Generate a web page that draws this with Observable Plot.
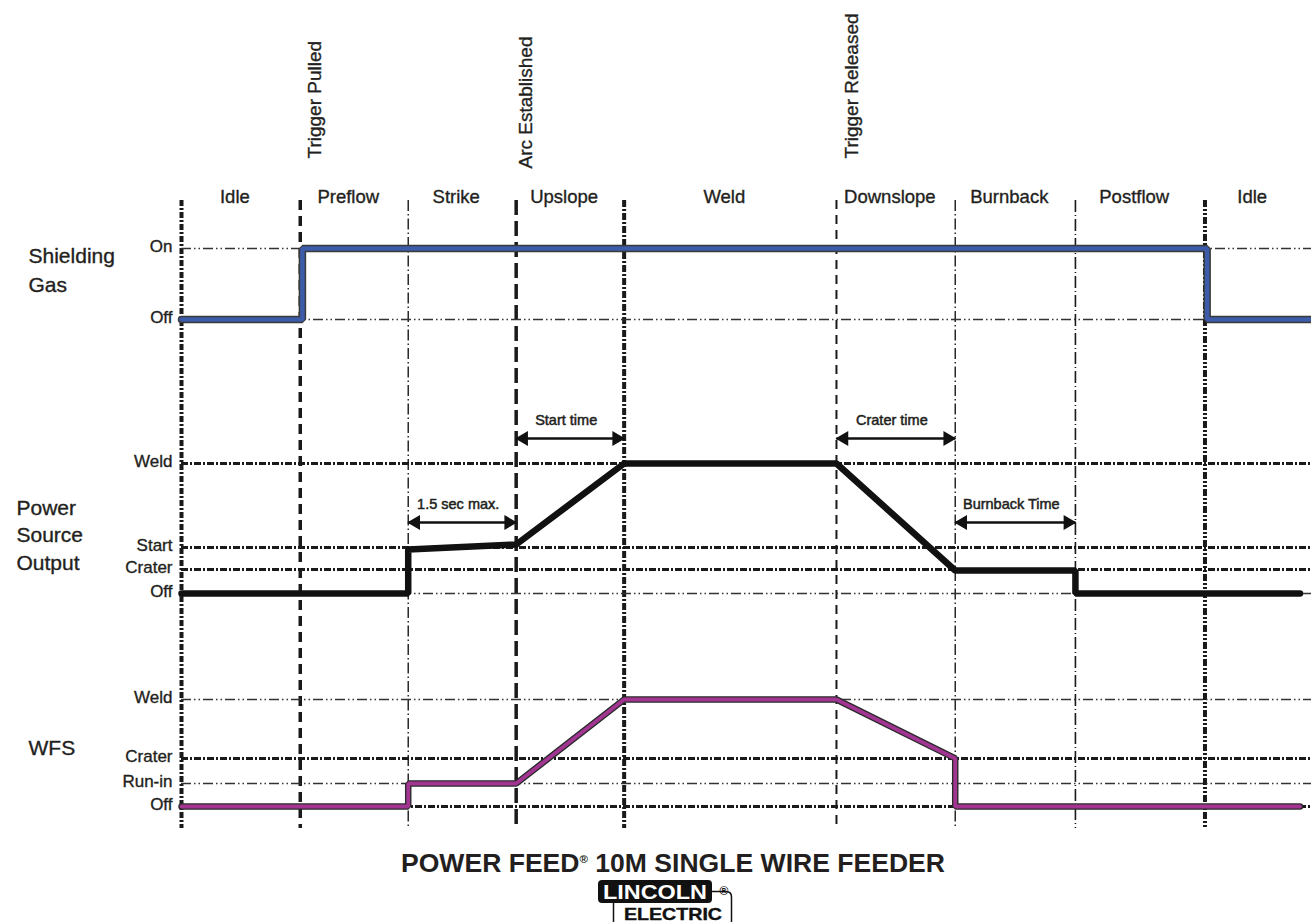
<!DOCTYPE html>
<html>
<head>
<meta charset="utf-8">
<script src="https://cdn.jsdelivr.net/npm/d3@7"></script>
<script src="https://cdn.jsdelivr.net/npm/@observablehq/plot@0.6"></script>
<style>
  html, body { margin: 0; padding: 0; background: #fff; overflow: hidden; }
  #chart svg { display: block; }
  #footer { display: block; }
</style>
</head>
<body>
<div id="chart"></div>
<svg id="footer" width="1311" height="77" xmlns="http://www.w3.org/2000/svg"></svg>
<script>
// ---------------- DATA ----------------
// time axis (arbitrary seconds); phase boundaries
const phaseNames  = ["Idle", "Preflow", "Strike", "Upslope", "Weld", "Downslope", "Burnback", "Postflow", "Idle"];
const phaseBounds = [0, 1.65, 3.15, 4.65, 6.15, 9.1, 10.75, 12.42, 14.22];
const timeEnd = 15.7;

const eventNames = ["Trigger Pulled", "Arc Established", "Trigger Released"];
const eventTimes = [1.65, 4.65, 9.1];

// level names and relative levels (0 = Off, 1 = top) per panel
const gasLevelNames    = ["On", "Off"];
const gasLevelValues   = [1, 0];
const powerLevelNames  = ["Weld", "Start", "Crater", "Off"];
const powerLevelValues = [1, 0.354, 0.185, 0];
const wfsLevelNames    = ["Weld", "Crater", "Run-in", "Off"];
const wfsLevelValues   = [1, 0.449, 0.215, 0];

// signal traces
const gasT   = [0, 1.68, 1.68, 14.25, 14.25, 15.7];
const gasV   = [0, 0, 1, 1, 0, 0];
const powerT = [0, 3.15, 3.15, 4.65, 6.15, 9.1, 10.75, 12.42, 12.42, 15.54];
const powerV = [0, 0, 0.338, 0.377, 1, 1, 0.177, 0.177, 0, 0];
const wfsT   = [0, 3.15, 3.15, 4.65, 6.15, 9.1, 10.75, 10.75, 15.54];
const wfsV   = [0, 0, 0.215, 0.215, 1, 1, 0.449, 0, 0];

// timed spans (double arrows)
const spanLabels = ["1.5 sec max.", "Start time", "Crater time", "Burnback Time"];
const spanStart  = [3.15, 4.65, 9.1, 10.75];
const spanEnd    = [4.65, 6.15, 10.75, 12.42];
const spanAnchor = ["Start", "Weld", "Weld", "Start"]; // power level the arrow sits above

const panelTitles = ["Shielding\nGas", "Power\nSource\nOutput", "WFS"];

// ---------------- LAYOUT / STYLE ----------------
const FONT = "'Liberation Sans', Arial, Helvetica, sans-serif";
const INK = "#231f20";
const HEAVY = {fill: INK, stroke: INK, strokeWidth: 0.35};
const base = {gas: 4, power: 2, wfs: 0};   // panel offsets on the stacked level axis

const gasLevels   = gasLevelNames.map((n, i) => ({name: n, v: base.gas + gasLevelValues[i]}));
const powerLevels = powerLevelNames.map((n, i) => ({name: n, v: base.power + powerLevelValues[i]}));
const wfsLevels   = wfsLevelNames.map((n, i) => ({name: n, v: base.wfs + wfsLevelValues[i]}));
const allLevels = [...gasLevels, ...powerLevels, ...wfsLevels];

const thickGrid = new Set(["power:Weld", "power:Start", "power:Crater", "wfs:Crater", "wfs:Off"]);
const keyed = [
  ...gasLevels.map(d => ({...d, key: "gas:" + d.name})),
  ...powerLevels.map(d => ({...d, key: "power:" + d.name})),
  ...wfsLevels.map(d => ({...d, key: "wfs:" + d.name}))
];
const gridThick = keyed.filter(d => thickGrid.has(d.key));
const gridThin  = keyed.filter(d => !thickGrid.has(d.key));

const vStyles = [
  {w: 4,   dash: "6,2,2,2"},      // left edge
  {w: 3.5, dash: "10,6"},         // trigger pulled
  {w: 1.4, dash: "11,3,1.5,3"},   // strike
  {w: 3.5, dash: "15,6"},         // arc established
  {w: 4,   dash: "7,2,2,2"},      // weld start
  {w: 2,   dash: "9,6"},          // trigger released
  {w: 1.4, dash: "11,3,1.5,3"},   // burnback
  {w: 1.6, dash: "12,3,1,3"},     // postflow
  {w: 4,   dash: "7,2,2,2,2,2"}   // idle
];

const gasPts   = gasT.map((t, i) => ({t, v: base.gas + gasV[i]}));
const powerPts = powerT.map((t, i) => ({t, v: base.power + powerV[i]}));
const wfsPts   = wfsT.map((t, i) => ({t, v: base.wfs + wfsV[i]}));

const powerLevelOf = Object.fromEntries(powerLevels.map(d => [d.name, d.v]));
const spans = spanLabels.map((label, i) => ({
  label, t1: spanStart[i], t2: spanEnd[i], v: powerLevelOf[spanAnchor[i]], mid: (spanStart[i] + spanEnd[i]) / 2
}));

const phases = phaseNames.map((name, i) => ({
  name, mid: (phaseBounds[i] + (i + 1 < phaseBounds.length ? phaseBounds[i + 1] : timeEnd)) / 2
}));

const events = eventNames.map((name, i) => ({name, t: eventTimes[i]}));

const marks = [];
// vertical phase separators
phaseBounds.forEach((t, i) => {
  marks.push(Plot.ruleX([t], {stroke: "#1a1a1a", strokeWidth: vStyles[i].w, strokeDasharray: vStyles[i].dash}));
});
// horizontal level lines
marks.push(Plot.ruleY(gridThin,  {y: "v", stroke: "#333", strokeWidth: 1.3, strokeDasharray: "10,3,1.5,3,1.5,3"}));
marks.push(Plot.ruleY(gridThick, {y: "v", stroke: "#1a1a1a", strokeWidth: 3, strokeDasharray: "7,2,2,2"}));

// signals
marks.push(Plot.line(gasPts, {x: "t", y: "v", stroke: "#3a3a3a", strokeWidth: 7.5, strokeLinejoin: "miter"}));
marks.push(Plot.line(gasPts, {x: "t", y: "v", stroke: "#3c5ba8", strokeWidth: 4.5, strokeLinejoin: "miter"}));
marks.push(Plot.line(powerPts, {x: "t", y: "v", stroke: "#111", strokeWidth: 6.5, strokeLinejoin: "miter"}));
marks.push(Plot.line(wfsPts, {x: "t", y: "v", stroke: "#2a2a2a", strokeWidth: 6.5, strokeLinejoin: "miter"}));
marks.push(Plot.line(wfsPts, {x: "t", y: "v", stroke: "#a23592", strokeWidth: 3.8, strokeLinejoin: "miter"}));

// span arrows
marks.push(Plot.link(spans, {x1: "t1", x2: "t2", y1: "v", y2: "v", dy: -25, stroke: "#111", strokeWidth: 2.5, insetLeft: 4, insetRight: 4}));
marks.push(Plot.dot(spans, {x: "t1", y: "v", dy: -25, dx: 7.5, symbol: "triangle", r: 5.5, rotate: -90, fill: "#111", stroke: "none"}));
marks.push(Plot.dot(spans, {x: "t2", y: "v", dy: -25, dx: -7.5, symbol: "triangle", r: 5.5, rotate: 90, fill: "#111", stroke: "none"}));
marks.push(Plot.text(spans, {x: "mid", y: "v", dy: -43, dx: -4, text: "label", fontSize: 14.5, ...HEAVY, strokeWidth: 0.5}));

// phase labels
marks.push(Plot.text(phases, {x: "mid", frameAnchor: "top", dy: -3, dx: -6, text: "name", fontSize: 18.5, lineAnchor: "middle", ...HEAVY}));
// event labels
marks.push(Plot.text(events.filter(d => d.name !== "Arc Established"), {x: "t", frameAnchor: "top", dy: -42, dx: 15, text: "name", rotate: -90, textAnchor: "start", lineAnchor: "middle", fontSize: 19, ...HEAVY}));
marks.push(Plot.text(events.filter(d => d.name === "Arc Established"), {x: "t", frameAnchor: "top", dy: -32, dx: 10, text: "name", rotate: -90, textAnchor: "start", lineAnchor: "middle", fontSize: 19, ...HEAVY}));

// level tick labels
marks.push(Plot.text(allLevels, {y: "v", frameAnchor: "left", dx: -9, dy: -2, text: "name", textAnchor: "end", lineAnchor: "middle", fontSize: 17, ...HEAVY}));

// panel titles
marks.push(Plot.text([panelTitles[0]], {y: [gasLevels[0].v], frameAnchor: "left", dx: -153, dy: 20, text: d => d, textAnchor: "start", lineAnchor: "middle", lineHeight: 1.35, fontSize: 21, ...HEAVY}));
marks.push(Plot.text([panelTitles[1]], {y: [powerLevelOf["Start"]], frameAnchor: "left", dx: -165, dy: -14, text: d => d, textAnchor: "start", lineAnchor: "middle", lineHeight: 1.3, fontSize: 21, ...HEAVY}));
marks.push(Plot.text([panelTitles[2]], {y: [wfsLevels[1].v], frameAnchor: "left", dx: -153, dy: -10, text: d => d, textAnchor: "start", lineAnchor: "middle", fontSize: 21, ...HEAVY}));

const chart = Plot.plot({
  width: 1311,
  height: 845,
  marginLeft: 181,
  marginRight: 0,
  marginTop: 200,
  marginBottom: 17,
  style: {fontFamily: FONT, background: "#fff", overflow: "visible"},
  x: {domain: [0, timeEnd], axis: null},
  y: {type: "linear", domain: [0, 1, 2, 3, 4, 5], range: [806, 699, 593, 463, 319, 248], axis: null},
  marks
});
document.getElementById("chart").appendChild(chart);

// ---------------- FOOTER: title + logo ----------------
const footer = d3.select("#footer").style("font-family", FONT);
const title = footer.append("text")
  .attr("x", 673).attr("y", 27).attr("text-anchor", "middle")
  .attr("font-size", 25.5).attr("font-weight", "bold").attr("fill", INK)
  .attr("textLength", 544).attr("lengthAdjust", "spacingAndGlyphs");
title.append("tspan").text("POWER FEED");
title.append("tspan").attr("font-size", 11).attr("dy", -9).text("®");
title.append("tspan").attr("dy", 9).text(" 10M SINGLE WIRE FEEDER");

footer.append("rect").attr("x", 598).attr("y", 35).attr("width", 114).attr("height", 23).attr("rx", 4).attr("fill", "#111");
footer.append("text").attr("x", 655).attr("y", 54).attr("text-anchor", "middle")
  .attr("font-size", 21).attr("font-weight", "bold").attr("fill", "#fff")
  .attr("textLength", 104).attr("lengthAdjust", "spacingAndGlyphs").text("LINCOLN");
footer.append("text").attr("x", 724).attr("y", 50).attr("text-anchor", "middle")
  .attr("font-size", 12).attr("font-weight", "bold").attr("fill", "#111").text("®");
footer.append("path").attr("d", "M613.5 58 V77 M712 46.5 H726 Q731.5 46.5 731.5 52 V77")
  .attr("fill", "none").attr("stroke", "#111").attr("stroke-width", 1.5);
footer.append("text").attr("x", 673).attr("y", 74.5).attr("text-anchor", "middle")
  .attr("font-size", 17).attr("font-weight", "bold").attr("fill", "#111")
  .attr("stroke", "#111").attr("stroke-width", 0.4)
  .attr("textLength", 98).attr("lengthAdjust", "spacingAndGlyphs").text("ELECTRIC");
</script>
</body>
</html>
